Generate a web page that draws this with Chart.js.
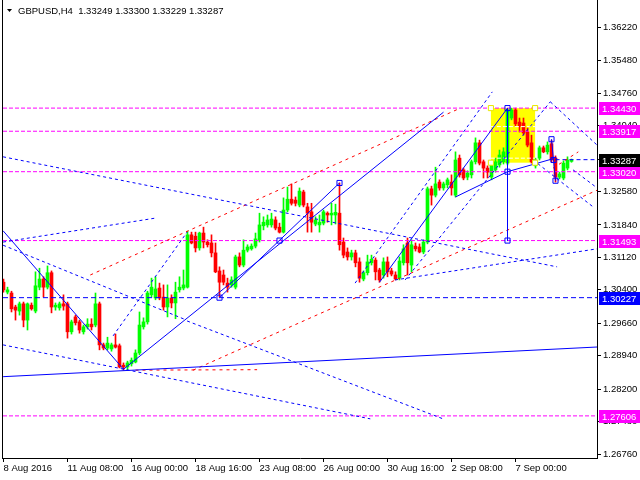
<!DOCTYPE html>
<html><head><meta charset="utf-8">
<script src="https://cdn.jsdelivr.net/npm/chart.js@4.4.1/dist/chart.umd.min.js"></script>
<style>html,body{margin:0;padding:0;background:#fff}canvas{display:block}</style>
</head><body>
<canvas id="c" width="640" height="480"></canvas>
<script>
// ---------- data ----------
const symbolTitle = 'GBPUSD,H4';
const timeLabels = ['8 Aug 2016','11 Aug 08:00','16 Aug 00:00','18 Aug 16:00','23 Aug 08:00','26 Aug 00:00','30 Aug 16:00','2 Sep 08:00','7 Sep 00:00'];
const timeLabelBars = [0,16,32,48,64,80,96,112,128];
const priceTicks = [1.26760,1.27480,1.28200,1.28940,1.29660,1.30400,1.31120,1.31840,1.32580,1.33300,1.34040,1.34760,1.35480,1.36220];

const opens = [
1.3057,1.3035,1.3033,1.3002,1.2993,1.3009,1.2973,1.3006,1.2993,1.3046,
1.3064,1.3046,1.3078,1.3002,1.3000,1.3009,1.3009,1.2947,1.2980,1.2969,
1.2947,1.2958,1.2964,1.2962,1.3009,1.2918,1.2911,1.2909,1.2918,1.2916,
1.2873,1.2869,1.2876,1.2880,1.2900,1.2958,1.2969,1.3029,1.3022,1.3044,
1.3024,1.3002,1.3022,1.3011,1.3040,1.3044,1.3046,1.3162,1.3159,1.3133,
1.3166,1.3146,1.3144,1.3122,1.3082,1.3073,1.3055,1.3051,1.3046,1.3113,
1.3095,1.3128,1.3131,1.3137,1.3151,1.3182,1.3184,1.3184,1.3195,1.3179,
1.3168,1.3217,1.3241,1.3239,1.3228,1.3257,1.3224,1.3213,1.3186,1.3184,
1.3188,1.3210,1.3206,1.3206,1.3210,1.3146,1.3124,1.3113,1.3122,1.3102,
1.3064,1.3078,1.3100,1.3106,1.3084,1.3073,1.3102,1.3082,1.3073,1.3066,
1.3100,1.3144,1.3095,1.3137,1.3135,1.3124,1.3146,1.3264,1.3250,1.3279,
1.3266,1.3273,1.3279,1.3250,1.3332,1.3306,1.3290,1.3295,1.3324,1.3366,
1.3324,1.3310,1.3290,1.3306,1.3317,1.3324,1.3321,1.3421,1.3439,1.3412,
1.3410,1.3390,1.3366,1.3315,1.3332,1.3355,1.3346,1.3364,1.3332,1.3290,
1.3288,1.3310,1.33249];
const highs = [
1.3064,1.3046,1.3037,1.3006,1.3013,1.3013,1.3011,1.3011,1.3080,1.3088,
1.3069,1.3093,1.3082,1.3011,1.3013,1.3029,1.3013,1.2973,1.2984,1.2973,
1.2962,1.2976,1.2976,1.3033,1.3013,1.2922,1.2935,1.2922,1.2942,1.2920,
1.2878,1.2882,1.2889,1.2907,1.2991,1.2978,1.3037,1.3066,1.3069,1.3055,
1.3051,1.3051,1.3029,1.3057,1.3069,1.3084,1.3170,1.3168,1.3168,1.3168,
1.3179,1.3151,1.3162,1.3144,1.3091,1.3084,1.3066,1.3069,1.3117,1.3122,
1.3151,1.3140,1.3142,1.3166,1.3210,1.3202,1.3206,1.3210,1.3202,1.3188,
1.3244,1.3268,1.3275,1.3246,1.3266,1.3261,1.3232,1.3232,1.3202,1.3206,
1.3217,1.3213,1.3232,1.3230,1.3277,1.3155,1.3133,1.3128,1.3128,1.3111,
1.3082,1.3117,1.3117,1.3111,1.3088,1.3111,1.3113,1.3088,1.3080,1.3113,
1.3140,1.3155,1.3151,1.3144,1.3142,1.3151,1.3268,1.3270,1.3312,1.3284,
1.3279,1.3288,1.3295,1.3346,1.3339,1.3310,1.3304,1.3328,1.3377,1.3372,
1.3328,1.3315,1.3326,1.3332,1.3350,1.3355,1.3441,1.3443,1.3443,1.3421,
1.3421,1.3399,1.3383,1.3332,1.3359,1.3359,1.3368,1.3372,1.3337,1.3301,
1.3326,1.3335,1.33300];
const lows = [
1.3035,1.3031,1.2991,1.2973,1.2984,1.2958,1.2951,1.2995,1.2989,1.3040,
1.3024,1.3042,1.2989,1.2995,1.2995,1.2995,1.2933,1.2942,1.2962,1.2944,
1.2942,1.2953,1.2951,1.2958,1.2907,1.2907,1.2907,1.2904,1.2911,1.2867,
1.2862,1.2862,1.2871,1.2878,1.2896,1.2953,1.2964,1.3024,1.3018,1.3018,
1.2995,1.2980,1.3000,1.2976,1.3035,1.3040,1.3044,1.3142,1.3124,1.3128,
1.3133,1.3135,1.3113,1.3078,1.3024,1.3051,1.3035,1.3046,1.3042,1.3091,
1.3091,1.3124,1.3128,1.3133,1.3146,1.3173,1.3179,1.3179,1.3173,1.3166,
1.3166,1.3213,1.3228,1.3226,1.3224,1.3224,1.3168,1.3168,1.3182,1.3168,
1.3184,1.3190,1.3184,1.3186,1.3128,1.3111,1.3106,1.3106,1.3091,1.3057,
1.3060,1.3073,1.3095,1.3062,1.3057,1.3066,1.3069,1.3071,1.3062,1.3062,
1.3095,1.3073,1.3080,1.3126,1.3122,1.3120,1.3142,1.3228,1.3246,1.3261,
1.3261,1.3266,1.3250,1.3246,1.3290,1.3284,1.3284,1.3288,1.3319,1.3317,
1.3288,1.3288,1.3284,1.3301,1.3312,1.3319,1.3317,1.3417,1.3403,1.3390,
1.3383,1.3357,1.3321,1.3310,1.3328,1.3344,1.3341,1.3324,1.3279,1.3286,
1.3284,1.3306,1.33229];
const closes = [
1.3040,1.3040,1.2998,1.2995,1.3009,1.2973,1.3009,1.2998,1.3049,1.3064,
1.3046,1.3078,1.3002,1.3006,1.3009,1.3004,1.2947,1.2969,1.2967,1.2951,
1.2958,1.2964,1.2958,1.3009,1.2918,1.2911,1.2922,1.2918,1.2913,1.2869,
1.2869,1.2878,1.2884,1.2900,1.2962,1.2969,1.3033,1.3046,1.3042,1.3022,
1.3002,1.3022,1.3011,1.3035,1.3046,1.3051,1.3162,1.3144,1.3133,1.3166,
1.3146,1.3140,1.3122,1.3080,1.3057,1.3057,1.3046,1.3062,1.3113,1.3095,
1.3128,1.3135,1.3137,1.3153,1.3184,1.3190,1.3195,1.3197,1.3177,1.3168,
1.3217,1.3241,1.3232,1.3232,1.3259,1.3228,1.3210,1.3190,1.3195,1.3190,
1.3213,1.3206,1.3210,1.3212,1.3140,1.3117,1.3113,1.3122,1.3100,1.3066,
1.3078,1.3102,1.3108,1.3080,1.3062,1.3102,1.3080,1.3075,1.3064,1.3104,
1.3131,1.3100,1.3140,1.3131,1.3124,1.3146,1.3264,1.3250,1.3275,1.3266,
1.3275,1.3284,1.3266,1.3328,1.3295,1.3288,1.3299,1.3324,1.3366,1.3321,
1.3310,1.3301,1.3317,1.3324,1.3339,1.3346,1.3439,1.3439,1.3408,1.3403,
1.3388,1.3361,1.3324,1.3328,1.3355,1.3346,1.3361,1.3328,1.3290,1.3297,
1.3321,1.3328,1.33287];

// horizontal levels
const levelPrices = [1.34430,1.33917,1.33020,1.31493,1.27606];
const supportPrice = 1.30227;

// analysis objects: [bar1, price1, bar2, price2]
const solidLines = [
  [-0.1,1.3171,30,1.2864],
  [30,1.2864,110,1.3434],
  [54,1.30227,84,1.3277],
  [94,1.3057,126,1.3443],
  [126,1.3443,126,1.31493],
  [113,1.3246,126,1.3302],
  [126,1.3302,137.5,1.3331],
  [137,1.3374,138,1.3282],
  [-0.1,1.28475,148.4,1.29133]
];
const dottedLines = [
  [-0.1,1.3335,138.4,1.3091],
  [-0.1,1.3146,37.9,1.3199],
  [-0.1,1.3139,45.2,1.2975],
  [-0.1,1.2918,91.7,1.2754],
  [45.9,1.2971,109.9,1.2754],
  [27.4,1.2938,45.9,1.3168],
  [97.9,1.3062,148.4,1.3131],
  [87.9,1.3055,122.2,1.3479],
  [100.4,1.3062,136.7,1.3457],
  [136.7,1.3457,148.4,1.3361],
  [132.4,1.3328,147.4,1.3224],
  [142.4,1.3306,148.4,1.3266]
];
const redLines = [
  [21.7,1.3073,114.2,1.3443],
  [47.4,1.2862,148.4,1.3261],
  [33,1.2862,63.4,1.2863],
  [137.4,1.3310,143.7,1.3346]
];
const markerPoints = [[54,1.30227],[69,1.31493],[84,1.3277],[126,1.3443],[126,1.3302],[126,1.31493],[137,1.3374],[137.5,1.3328],[138,1.3282]];
const boxBars = [121.85,132.9];
const boxPrices = [1.3443,1.3322];
const boxInnerPrices = [1.3402,1.3332];

// ---------- chart ----------
const X_MIN = -0.125, X_MAX = 148.375;
const Y_MIN = 1.26672, Y_MAX = 1.36827;
const GREEN = '#00FF00', RED = '#FF0000', BLUE = '#0000FF', MAG = '#FF00FF';
const FONT = "'Liberation Sans',Arial,sans-serif";
const FSIZE = 9.5;
const idx = opens.map((o, i) => i);
const isUp = i => closes[i] >= opens[i];

function lineDS(a, color, dash, order) {
  return {type:'line', data:[{x:a[0],y:a[1]},{x:a[2],y:a[3]}], borderColor:color, borderWidth:1,
          borderDash:dash, pointRadius:0, fill:false, tension:0, order:order};
}
const datasets = [];
levelPrices.forEach(p => datasets.push(lineDS([X_MIN,p,X_MAX,p], MAG, [4,2], 3)));
datasets.push(lineDS([X_MIN,supportPrice,X_MAX,supportPrice], BLUE, [5,3], 3));
datasets.push(lineDS([138,closes[closes.length-1],X_MAX,closes[closes.length-1]], BLUE, [4,3], 3));
datasets.push({type:'bar', data: idx.map(i => ({x:i, y:[lows[i], highs[i]]})),
  backgroundColor: idx.map(i => isUp(i) ? GREEN : RED), barThickness:1, grouped:false, minBarLength:1, order:6});
datasets.push({type:'bar', data: idx.map(i => ({x:i, y:[opens[i], closes[i]]})),
  backgroundColor: idx.map(i => isUp(i) ? GREEN : RED), barThickness:3, grouped:false, minBarLength:1, order:5});
solidLines.forEach(l => datasets.push(lineDS(l, BLUE, [], 2)));
dottedLines.forEach(l => datasets.push(lineDS(l, BLUE, [3,3], 2)));
redLines.forEach(l => datasets.push(lineDS(l, RED, [3,4], 2)));
boxInnerPrices.forEach(p => datasets.push(lineDS([boxBars[0],p,boxBars[1],p], '#FFFFFF', [4,2], 4)));
datasets.push({type:'scatter', data: markerPoints.map(m => ({x:m[0], y:m[1]})), pointStyle:'rect', pointRadius:3.6,
  pointBorderColor:BLUE, pointBackgroundColor:'rgba(0,0,0,0)', pointBorderWidth:1, showLine:false, order:1});
datasets.push({type:'scatter', data: [[boxBars[0],boxPrices[0]],[boxBars[1],boxPrices[0]],[boxBars[0],boxPrices[1]],[boxBars[1],boxPrices[1]]].map(m => ({x:m[0], y:m[1]})),
  pointStyle:'rect', pointRadius:3.6, pointBorderColor:'#E8E800', pointBackgroundColor:'#FFFFFF', pointBorderWidth:1, showLine:false, order:1});

const mt4Plugin = {
  id: 'mt4',
  beforeDatasetsDraw(chart) {
    const {ctx, scales:{x, y}} = chart;
    ctx.save();
    ctx.fillStyle = '#FFFF00';
    const x1 = x.getPixelForValue(boxBars[0]), x2 = x.getPixelForValue(boxBars[1]);
    const y1 = y.getPixelForValue(boxPrices[0]), y2 = y.getPixelForValue(boxPrices[1]);
    ctx.fillRect(x1, y1, x2 - x1, y2 - y1);
    ctx.restore();
  },
  afterDraw(chart) {
    const {ctx, chartArea, scales:{y}} = chart;
    ctx.save();
    ctx.fillStyle = '#000';
    ctx.fillRect(chartArea.left - 1, 0, 1, chartArea.bottom + 1);
    // title
    ctx.beginPath();
    ctx.moveTo(7, 9); ctx.lineTo(12, 9); ctx.lineTo(9.5, 12); ctx.closePath(); ctx.fill();
    ctx.font = FSIZE + 'px ' + FONT;
    ctx.textBaseline = 'alphabetic';
    ctx.textAlign = 'left';
    ctx.fillText(symbolTitle + '  ' + [opens, highs, lows, closes].map(a => a[a.length-1].toFixed(5)).join(' '), 18, 14);
    // price boxes
    const box = (p, bg) => {
      const py = Math.round(y.getPixelForValue(p));
      ctx.fillStyle = bg;
      ctx.fillRect(chartArea.right + 2, py - 6, 43, 13);
      ctx.fillStyle = '#FFFFFF';
      ctx.textBaseline = 'middle';
      ctx.fillText(p.toFixed(5), chartArea.right + 5, py + 1);
    };
    levelPrices.forEach(p => box(p, MAG));
    box(supportPrice, BLUE);
    box(closes[closes.length-1], '#000000');
    ctx.restore();
  }
};

new Chart(document.getElementById('c'), {
  type: 'bar',
  data: { datasets },
  options: {
    responsive: false, animation: false, devicePixelRatio: 1,
    layout: { autoPadding: false, padding: { left: 3, top: 0, right: 0, bottom: 0 } },
    plugins: { legend: { display: false }, tooltip: { enabled: false }, title: { display: false } },
    scales: {
      x: {
        type: 'linear', min: X_MIN, max: X_MAX, offset: false,
        afterBuildTicks: s => { s.ticks = timeLabelBars.map(v => ({value: v})); },
        afterFit: s => { s.height = 22; s.paddingLeft = 0; s.paddingRight = 0; },
        grid: { display: true, drawOnChartArea: false, drawTicks: true, tickLength: 4, color: '#000', offset: false },
        border: { display: true, color: '#000', width: 1 },
        ticks: { autoSkip: false, maxRotation: 0, minRotation: 0, align: 'start', padding: 1, color: '#000',
                 font: { family: FONT, size: FSIZE },
                 callback: v => { const k = timeLabelBars.indexOf(v); return k >= 0 ? timeLabels[k] : ''; } }
      },
      y: {
        type: 'linear', position: 'right', min: Y_MIN, max: Y_MAX,
        afterBuildTicks: s => { s.ticks = priceTicks.map(v => ({value: v})); },
        afterFit: s => { s.width = 43; s.paddingTop = 0; s.paddingBottom = 0; },
        grid: { display: true, drawOnChartArea: false, drawTicks: true, tickLength: 4, color: '#000' },
        border: { display: true, color: '#000', width: 1 },
        ticks: { autoSkip: false, padding: 2, color: '#000', font: { family: FONT, size: FSIZE },
                 callback: v => Number(v).toFixed(5) }
      }
    }
  },
  plugins: [mt4Plugin]
});
</script>
</body></html>
